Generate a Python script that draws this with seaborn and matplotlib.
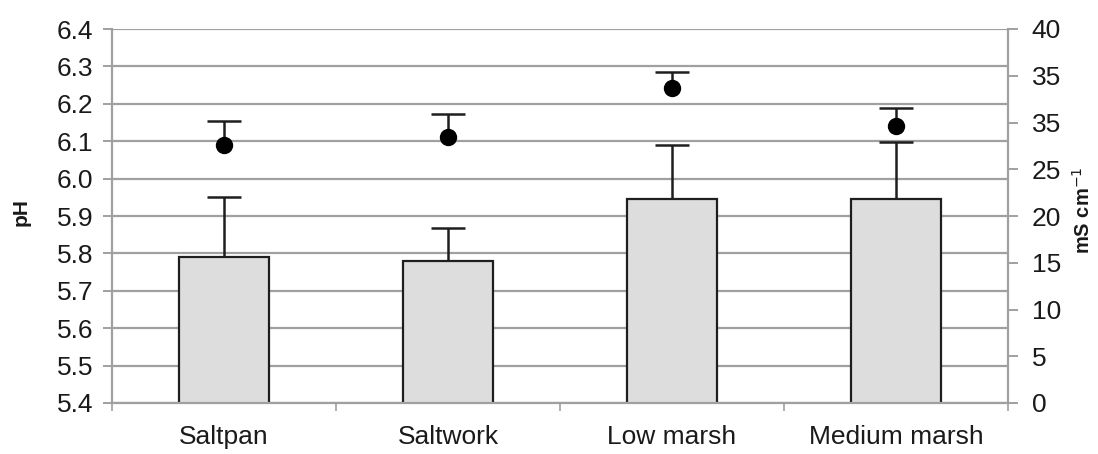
import numpy as np
import pandas as pd
import matplotlib
matplotlib.use("Agg")
import matplotlib.pyplot as plt
import seaborn as sns

# ---- data ----
sites = ["Saltpan", "Saltwork", "Low marsh", "Medium marsh"]
ph_mean = [5.79, 5.78, 5.945, 5.945]
ph_sd = [0.16, 0.087, 0.144, 0.153]
cond_mean = [27.6, 28.5, 33.7, 29.6]
cond_sd = [2.6, 2.4, 1.7, 1.9]
ph_ticks = [5.4, 5.5, 5.6, 5.7, 5.8, 5.9, 6.0, 6.1, 6.2, 6.3, 6.4]
cond_ticks = [0, 5, 10, 15, 20, 25, 30, 35, 40]
cond_ticklabels = ["0", "5", "10", "15", "20", "25", "35", "35", "40"]

sns.set_theme(style="white")
plt.rcParams["font.family"] = ["Liberation Sans", "DejaVu Sans"]

fig = plt.figure(figsize=(10.98, 4.54), dpi=100)
ax = fig.add_axes([112 / 1098, 1 - 403 / 454, 896 / 1098, 374 / 454])

grid_c = "#a0a0a0"
txt_c = "#1a1a1a"
fs = 19

df = pd.DataFrame({"site": sites, "ph": ph_mean})
sns.barplot(data=df, x="site", y="ph", ax=ax, color="#dddddd", saturation=1,
            edgecolor="#1e1e1e", linewidth=1.6, width=0.40)
x = np.arange(len(sites))
eb = ax.errorbar(x, ph_mean, yerr=[np.zeros(len(sites)), ph_sd], fmt="none",
                 ecolor="#1e1e1e", elinewidth=1.8, capsize=12, capthick=1.8, zorder=3)
eb[1][0].set_visible(False)

ax.set_ylim(5.4, 6.4)
ax.set_xlim(-0.5, 3.5)
ax.set_yticks(ph_ticks)
ax.set_yticklabels([f"{t:.1f}" for t in ph_ticks])
ax.yaxis.grid(True, color=grid_c, linewidth=1.6)
ax.set_axisbelow(True)
ax.set_xticks(x)
ax.set_xticklabels(sites)
ax.set_xticks(np.arange(-0.5, 4.0, 1.0), minor=True)
ax.tick_params(axis="x", which="major", length=0, pad=16, labelsize=fs, labelcolor=txt_c)
ax.tick_params(axis="x", which="minor", length=6, width=1.2, color=grid_c, direction="out", bottom=True)
ax.tick_params(axis="y", which="major", length=6.5, width=1.4, color=grid_c, direction="out",
               left=True, pad=7, labelsize=fs, labelcolor=txt_c)
ax.set_xlabel("")
ax.set_ylabel("pH", fontsize=15, fontweight="bold", color=txt_c)
ax.yaxis.set_label_coords(-0.0905, 0.51)
for s in ["top", "right"]:
    ax.spines[s].set_visible(False)
for s in ["left", "bottom"]:
    ax.spines[s].set_color(grid_c)
    ax.spines[s].set_linewidth(1.6)

ax2 = ax.twinx()
eb2 = ax2.errorbar(x, cond_mean, yerr=[np.zeros(len(sites)), cond_sd], fmt="o",
                   color="black", markersize=11.5, ecolor="#1e1e1e", elinewidth=1.8,
                   capsize=12, capthick=1.8, zorder=4)
eb2[1][0].set_visible(False)
ax2.set_ylim(0, 40)
ax2.set_yticks(cond_ticks)
ax2.set_yticklabels(cond_ticklabels)
ax2.tick_params(axis="y", length=7, width=1.4, color=grid_c, direction="out",
                right=True, pad=10, labelsize=fs, labelcolor=txt_c)
ax2.set_ylabel("mS cm$^{-1}$", fontsize=14.5, fontweight="bold", color=txt_c)
ax2.yaxis.set_label_coords(1.071, 0.516)
ax2.grid(False)
for s in ["top", "left", "bottom"]:
    ax2.spines[s].set_visible(False)
ax2.spines["right"].set_color(grid_c)
ax2.spines["right"].set_linewidth(1.6)

fig.savefig("out.png", dpi=100, facecolor="white")
